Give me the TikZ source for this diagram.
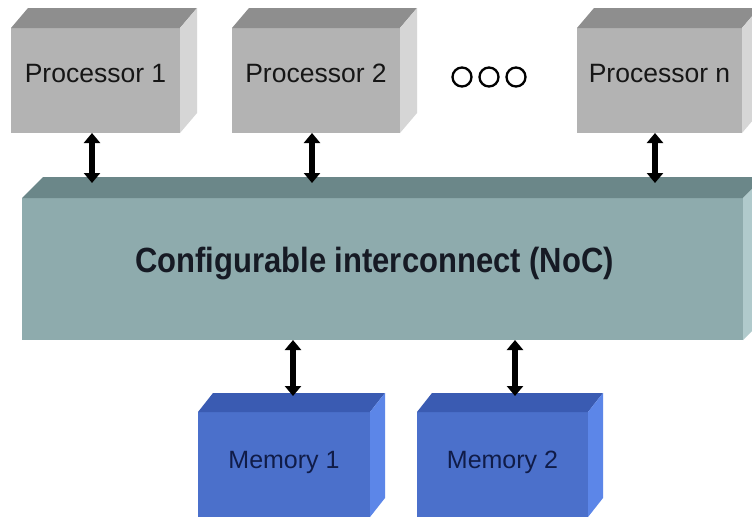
\documentclass[tikz,border=0pt]{standalone}
\usepackage{fontspec}
\usepackage{graphicx}
\setmainfont{Liberation Sans}
\usetikzlibrary{calc,arrows.meta}
\definecolor{procF}{HTML}{B3B3B3}
\definecolor{procT}{HTML}{8E8E8E}
\definecolor{procS}{HTML}{D6D6D6}
\definecolor{nocF}{HTML}{8EABAD}
\definecolor{nocT}{HTML}{6B8789}
\definecolor{nocS}{HTML}{B0CACC}
\definecolor{memF}{HTML}{4B70CB}
\definecolor{memT}{HTML}{3A5BB2}
\definecolor{memS}{HTML}{5C86E8}
\definecolor{memTxt}{HTML}{101C48}
\definecolor{procTxt}{HTML}{161616}
\definecolor{nocTxt}{HTML}{161A24}
\begin{document}
\begin{tikzpicture}[x=1pt,y=-1pt,
  front/.style={rectangle, inner sep=0pt, outer sep=0pt, anchor=north west},
  procbox/.style={front, fill=procF, minimum height=105pt, text=procTxt,
    font=\fontsize{26.5}{26.5}\selectfont, text height=20pt, text depth=16pt},
  membox/.style={front, fill=memF, minimum height=105pt, text=memTxt,
    font=\fontsize{25}{25}\selectfont, text height=20pt, text depth=13pt},
  nocbox/.style={front, fill=nocF, minimum height=142pt, text=nocTxt,
    font=\fontsize{35}{35}\selectfont\bfseries, text height=28pt, text depth=21pt},
  biarrow/.style={draw=black, line width=6pt,
    {Triangle[width=16pt,length=10pt]}-{Triangle[width=16pt,length=10pt]}},
  dot/.style={circle, draw=black, line width=2.3pt, fill=white, minimum size=19pt, inner sep=0pt}
]
\useasboundingbox (0,0) rectangle (752,517);
\clip (0,0) rectangle (752,517);
\fill[white] (0,0) rectangle (752,517);

% front faces
\node[procbox, minimum width=169pt] (p1) at (11,28) {Processor 1};
\node[procbox, minimum width=168pt] (p2) at (232,28) {Processor 2};
\node[procbox, minimum width=165pt] (pn) at (577,28) {Processor n};
\node[nocbox, minimum width=721pt] (noc) at (22,198) {\scalebox{0.885}[1]{Configurable interconnect (NoC)}\hspace*{16pt}};
\node[membox, minimum width=172pt] (m1) at (198,412) {Memory 1};
\node[membox, minimum width=171pt] (m2) at (417,412) {Memory 2};

% top and side faces
\foreach \n/\dx/\dy/\tc/\sc in {p1/17/20/procT/procS, p2/17/20/procT/procS, pn/17/20/procT/procS,
    noc/21/21/nocT/nocS, m1/15/19/memT/memS, m2/15/19/memT/memS} {
  \fill[\tc] (\n.north west) -- (\n.north east) -- ++(\dx pt,\dy pt)
     -- ($(\n.north west)+(\dx pt,\dy pt)$) -- cycle;
  \fill[\sc] (\n.north east) -- ++(\dx pt,\dy pt)
     -- ($(\n.south east)+(\dx pt,\dy pt)$) -- (\n.south east) -- cycle;
}

% dots
\node[dot] (d1) at (462,77) {};
\node[dot] (d2) at (489,77) {};
\node[dot] (d3) at (516,77) {};

% arrow end points on the interconnect / memories
\coordinate (t1) at (92,183);
\coordinate (t2) at (312,183);
\coordinate (tn) at (655,183);
\coordinate (b1) at (293,396);
\coordinate (b2) at (515,396);

\draw[biarrow] (p1.south -| t1) -- (t1);
\draw[biarrow] (p2.south -| t2) -- (t2);
\draw[biarrow] (pn.south -| tn) -- (tn);
\draw[biarrow] (noc.south -| b1) -- (b1);
\draw[biarrow] (noc.south -| b2) -- (b2);
\end{tikzpicture}
\end{document}
